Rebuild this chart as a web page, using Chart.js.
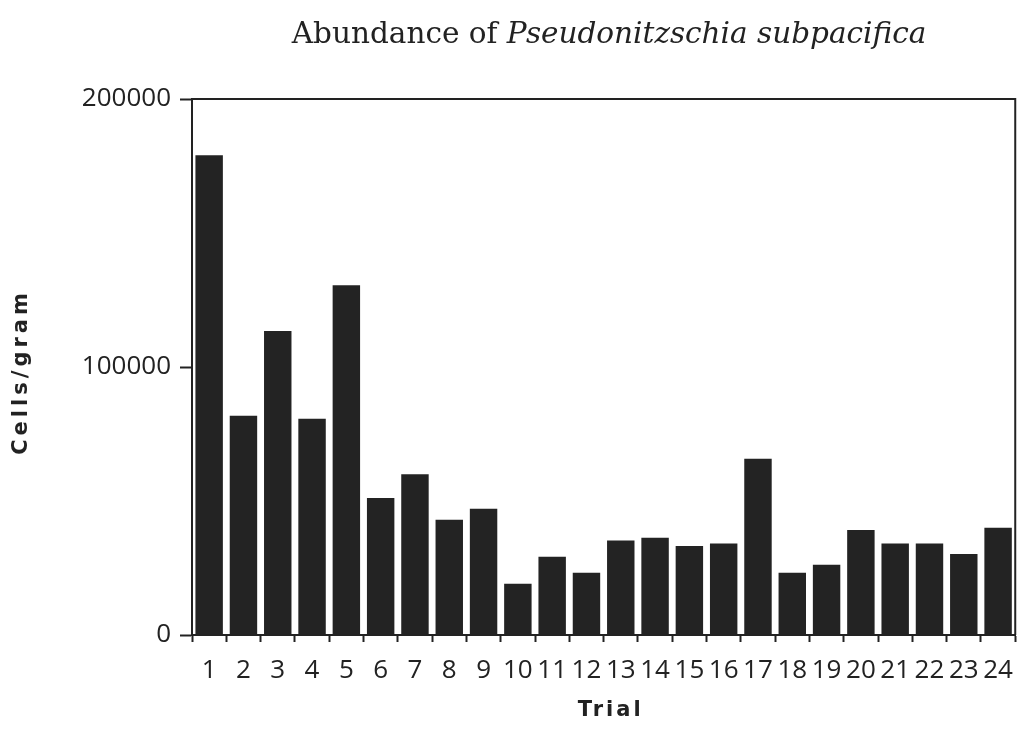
<!DOCTYPE html>
<html>
<head>
<meta charset="utf-8">
<script src="https://cdn.jsdelivr.net/npm/chart.js@4.4.1/dist/chart.umd.min.js"></script>
<style>
  html, body { margin: 0; padding: 0; background: #fff; }
  canvas { display: block; }
</style>
</head>
<body>
<canvas id="chart" width="1026" height="734"></canvas>
<script>
(function() {

    let trials = ['1', '2', '3', '4', '5', '6', '7', '8', '9', '10', '11', '12',
                  '13', '14', '15', '16', '17', '18', '19', '20', '21', '22', '23', '24'];

    let cellsPerGram = [179000, 81800, 113400, 80700, 130500, 51100, 60000, 43000,
                        47100, 19100, 29200, 23200, 35300, 36300, 33200, 34100,
                        65800, 23200, 26200, 39200, 34100, 34100, 30200, 40000];

    let yTicks = [0, 100000, 200000];

    let titlePlain = 'Abundance of ';
    let titleItalic = 'Pseudonitzschia subpacifica';
    let xTitle = 'Trial';
    let yTitle = 'Cells/gram';

    let ink = '#222';

    /**
     * Draws the frame, the mixed font title and the spaced axis titles
     */
    let decorations = {
        id: 'decorations',
        afterDraw: chart => {
            let { ctx, chartArea } = chart;
            ctx.save();

            // top and right edges of the box
            ctx.strokeStyle = ink;
            ctx.lineWidth = 2;
            ctx.beginPath();
            ctx.moveTo(chartArea.left, chartArea.top);
            ctx.lineTo(chartArea.right, chartArea.top);
            ctx.lineTo(chartArea.right, chartArea.bottom);
            ctx.stroke();

            // title, roman then italic
            ctx.fillStyle = ink;
            ctx.textBaseline = 'alphabetic';
            ctx.textAlign = 'left';
            let plainFont = '29.5px "DejaVu Serif"';
            let italicFont = 'italic 29.5px "DejaVu Serif"';
            ctx.font = plainFont;
            let w1 = ctx.measureText(titlePlain).width;
            ctx.font = italicFont;
            let w2 = ctx.measureText(titleItalic).width;
            let x0 = 609 - (w1 + w2) / 2;
            ctx.font = plainFont;
            ctx.fillText(titlePlain, x0, 43);
            ctx.font = italicFont;
            ctx.fillText(titleItalic, x0 + w1, 43);

            // axis titles
            ctx.font = 'bold 21px "DejaVu Sans"';
            ctx.letterSpacing = '3px';
            ctx.textAlign = 'center';
            ctx.textBaseline = 'middle';
            ctx.fillText(xTitle, (chartArea.left + chartArea.right) / 2 + 7, 711);

            ctx.letterSpacing = '4px';
            ctx.translate(22, 372);
            ctx.rotate(-Math.PI / 2);
            ctx.fillText(yTitle, 0, 0);

            ctx.restore();
        }
    };

    new Chart(document.getElementById('chart'), {
        type: 'bar',
        data: {
            labels: trials,
            datasets: [{
                data: cellsPerGram,
                backgroundColor: '#232323',
                borderWidth: 0,
                barPercentage: 0.8,
                categoryPercentage: 1
            }]
        },
        options: {
            responsive: false,
            animation: false,
            layout: { padding: { top: 99, right: 2, left: 0, bottom: 0 } },
            plugins: {
                legend: { display: false },
                title: { display: false },
                tooltip: { enabled: false }
            },
            scales: {
                x: {
                    offset: true,
                    grid: {
                        offset: true,
                        drawOnChartArea: false,
                        drawTicks: true,
                        tickLength: 7,
                        tickWidth: 2,
                        tickColor: ink
                    },
                    border: { display: true, color: ink, width: 2 },
                    ticks: {
                        color: ink,
                        font: { family: 'Open Sans', size: 26 },
                        padding: 13,
                        maxRotation: 0,
                        autoSkip: false
                    },
                    afterFit: scale => { scale.height = 99; }
                },
                y: {
                    min: 0,
                    max: 200000,
                    afterBuildTicks: scale => {
                        scale.ticks = yTicks.map(v => ({ value: v }));
                    },
                    grid: {
                        drawOnChartArea: false,
                        drawTicks: true,
                        tickLength: 12,
                        tickWidth: 2,
                        tickColor: ink
                    },
                    border: { display: true, color: ink, width: 2 },
                    ticks: {
                        color: ink,
                        font: { family: 'Open Sans', size: 26 },
                        padding: 9,
                        callback: v => String(v)
                    },
                    afterFit: scale => { scale.width = 192; }
                }
            }
        },
        plugins: [decorations]
    });

})();
</script>
</body>
</html>
